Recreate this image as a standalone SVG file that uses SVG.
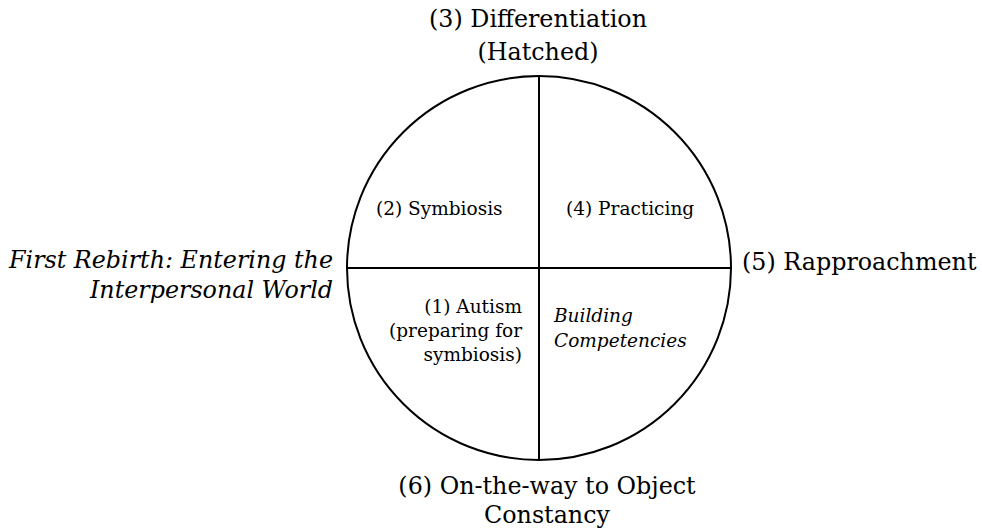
<svg xmlns="http://www.w3.org/2000/svg" width="982" height="531" viewBox="0 0 982 531">
<style>
text{font-family:"DejaVu Serif","Liberation Serif",serif;fill:#000}
.big{font-size:23.8px}
.sm{font-size:18.5px}
.it{font-style:italic}
.ln{stroke:#000;stroke-width:2;fill:none}
</style>
<rect width="982" height="531" fill="#fff"/>
<g id="circle">
<circle class="ln" cx="539" cy="268" r="192"/>
</g>
<g id="connectors">
<line class="ln" x1="539" y1="76" x2="539" y2="460"/>
<line class="ln" x1="347" y1="268" x2="731" y2="268"/>
</g>
<g id="top-label"><text class="big" x="538" y="27" text-anchor="middle">(3) Differentiation</text><text class="big" x="538" y="60" text-anchor="middle">(Hatched)</text></g>
<g id="bottom-label"><text class="big" x="547" y="494" text-anchor="middle">(6) On-the-way to Object</text><text class="big" x="547" y="523" text-anchor="middle">Constancy</text></g>
<g id="right-label"><text class="big" x="742" y="270">(5) Rapproachment</text></g>
<g id="left-label"><text class="big it" x="333" y="268" text-anchor="end">First Rebirth: Entering the</text><text class="big it" x="333" y="298" text-anchor="end">Interpersonal World</text></g>
<g id="q2"><text class="sm" x="376" y="215">(2) Symbiosis</text></g>
<g id="q4"><text class="sm" x="566" y="215">(4) Practicing</text></g>
<g id="q1"><text class="sm" x="522" y="313" text-anchor="end">(1) Autism</text><text class="sm" x="522" y="337" text-anchor="end">(preparing for</text><text class="sm" x="522" y="361" text-anchor="end">symbiosis)</text></g>
<g id="q3"><text class="sm it" x="554" y="322">Building</text><text class="sm it" x="554" y="347">Competencies</text></g>
</svg>
